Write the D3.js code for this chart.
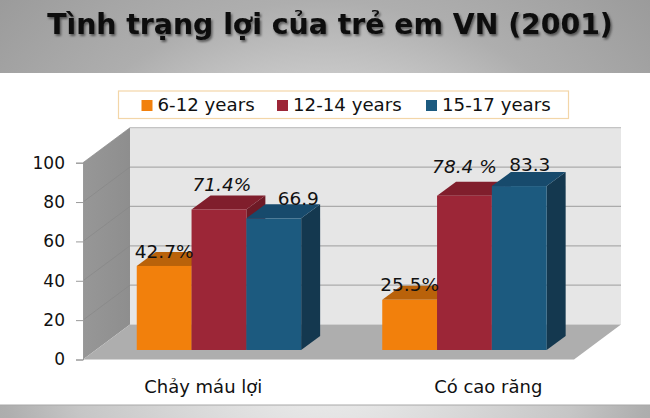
<!DOCTYPE html>
<html><head><meta charset="utf-8">
<script src="https://cdn.jsdelivr.net/npm/d3@7/dist/d3.min.js"></script>
<style>html,body{margin:0;padding:0;background:#fff}svg{display:block}</style>
</head><body><svg id="c" width="650" height="418"></svg>
<script>
const titleText = "Tình trạng lợi của trẻ em VN (2001)";
const categories = ["Chảy máu lợi", "Có cao răng"];
const seriesNames = ["6-12 years", "12-14 years", "15-17 years"];
const values612 = [42.7, 25.5];
const values1214 = [71.4, 78.4];
const values1517 = [66.9, 83.3];
const labels612 = ["42.7%", "25.5%"];
const labels1214 = ["71.4%", "78.4 %"];
const labels1517 = ["66.9", "83.3"];
const yTicks = [0, 20, 40, 60, 80, 100];

const font = "'DejaVu Sans', Verdana, sans-serif";
const svg = d3.select("#c");
const defs = svg.append("defs");

function grad(id, x2, y2, stops, x1 = 0, y1 = 0) {
  const g = defs.append("linearGradient").attr("id", id)
    .attr("x1", x1).attr("y1", y1).attr("x2", x2).attr("y2", y2);
  stops.forEach(s => g.append("stop").attr("offset", s[0]).attr("stop-color", s[1]));
}
const rg = defs.append("radialGradient").attr("id", "bg")
  .attr("gradientUnits", "userSpaceOnUse").attr("cx", 325).attr("cy", 330).attr("r", 470);
[[0, "#eeeeee"], [0.17, "#e6e6e6"], [0.55, "#c6c6c6"], [0.7, "#aeaeae"], [1, "#9a9a9a"]]
  .forEach(s => rg.append("stop").attr("offset", s[0]).attr("stop-color", s[1]));
grad("wall", 1, 0, [[0, "#979797"], [1, "#8e8e8e"]]);
const shadow = defs.append("filter").attr("id", "ts").attr("x", "-5%").attr("y", "-20%").attr("width", "110%").attr("height", "150%");
shadow.append("feDropShadow").attr("dx", 1.5).attr("dy", 2).attr("stdDeviation", 1.2).attr("flood-color", "#000").attr("flood-opacity", 0.5);

// slide background
svg.append("rect").attr("width", 650).attr("height", 418).attr("fill", "url(#bg)");
svg.append("rect").attr("y", 73).attr("width", 650).attr("height", 332).attr("fill", "#fff");
svg.append("line").attr("x1", 0).attr("x2", 650).attr("y1", 405).attr("y2", 405).attr("stroke", "#a8a8a8");
svg.append("text").attr("x", 330).attr("y", 34).attr("text-anchor", "middle")
  .attr("font-family", font).attr("font-weight", "bold").attr("font-size", 28.3)
  .attr("fill", "#0a0a0a").attr("filter", "url(#ts)").text(titleText);

// chart frame
const front = { left: 83, right: 574, bottom: 359.5, top: 162.7 };
const depth = { dx: 47, dy: -35 };
const barDepth = { dx: 19, dy: -14 };
const barShift = { dx: 13.2, dy: -9.5 };

const y = d3.scaleLinear().domain([0, 100]).range([front.bottom, front.top]);
const x0 = d3.scaleBand().domain(categories).range([front.left, front.right]);
const x1 = d3.scaleBand().domain(seriesNames).range([0, 164.4]);

const poly = pts => pts.map(p => p.join(",")).join(" ");
// left wall
svg.append("polygon").attr("fill", "url(#wall)").attr("points", poly([
  [front.left, y(100)], [front.left + depth.dx, y(100) + depth.dy],
  [front.left + depth.dx, y(0) + depth.dy], [front.left, y(0)]]));
// back wall
svg.append("rect").attr("x", front.left + depth.dx).attr("y", y(100) + depth.dy)
  .attr("width", front.right - front.left).attr("height", y(0) - y(100))
  .attr("fill", "#e6e6e6");
// floor
svg.append("polygon").attr("fill", "#aeaeae").attr("points", poly([
  [front.left, y(0)], [front.left + depth.dx, y(0) + depth.dy],
  [front.right + depth.dx, y(0) + depth.dy], [front.right, y(0)]]));
// gridlines
yTicks.filter(t => t > 0).forEach(t => {
  const yy = y(t) + depth.dy;
  svg.append("line").attr("x1", front.left + depth.dx).attr("x2", front.right + depth.dx)
    .attr("y1", yy).attr("y2", yy).attr("stroke", t === 100 ? "#c4c4c4" : "#ababab").attr("stroke-width", 1.2);
  svg.append("line").attr("x1", front.left).attr("x2", front.left + depth.dx)
    .attr("y1", y(t)).attr("y2", yy).attr("stroke", "#868686").attr("stroke-width", 0.7);
});

// y axis
const axis = svg.append("g").attr("transform", `translate(${front.left},0)`)
  .call(d3.axisLeft(y).tickValues(yTicks).tickSize(7).tickPadding(11).tickFormat(d3.format("d")));
axis.select(".domain").attr("stroke", "#9a9a9a");
axis.selectAll(".tick line").attr("stroke", "#9a9a9a");
axis.selectAll("text").attr("font-family", font).attr("font-size", 17).attr("fill", "#111");

// x axis labels
const catLabelOffset = [-2.5, 37];
svg.append("g").selectAll("text").data(categories).join("text")
  .attr("x", (d, i) => x0(d) + x0.bandwidth() / 2 + catLabelOffset[i]).attr("y", 393).attr("text-anchor", "middle")
  .attr("font-family", font).attr("font-size", 18).attr("fill", "#111").text(d => d);

// bars
const series = [
  { name: seriesNames[0], values: values612, labels: labels612, front: "#f2800c", top: "#b9620a", side: "#b9620a", italic: false, off: [[0, -8], [0, -8.7]] },
  { name: seriesNames[1], values: values1214, labels: labels1214, front: "#9c2637", top: "#801e2c", side: "#6e1a26", italic: true, off: [[3, -18.7], [0, -23]] },
  { name: seriesNames[2], values: values1517, labels: labels1517, front: "#1c5a7f", top: "#174a6c", side: "#14384f", italic: false, off: [[24.5, -13], [10.5, -14.6]] }
];
const groupStart = c => x0(c) + (x0.bandwidth() - 164.4) / 2 + barShift.dx;
const baseY = y(0) + barShift.dy;
const hScale = v => y(v) + barShift.dy;
const barsG = svg.append("g");
categories.forEach((c, ci) => {
  series.forEach(s => {
    const v = s.values[ci];
    const l = groupStart(c) + x1(s.name), w = x1.bandwidth(), r = l + w, t = hScale(v);
    barsG.append("polygon").attr("fill", s.side).attr("points", poly([
      [r, t], [r + barDepth.dx, t + barDepth.dy], [r + barDepth.dx, baseY + barDepth.dy], [r, baseY]]));
    barsG.append("polygon").attr("fill", s.top).attr("points", poly([
      [l, t], [l + barDepth.dx, t + barDepth.dy], [r + barDepth.dx, t + barDepth.dy], [r, t]]));
    barsG.append("rect").attr("x", l).attr("y", t).attr("width", w).attr("height", baseY - t).attr("fill", s.front);
  });
});
// data labels
categories.forEach((c, ci) => {
  series.forEach(s => {
    const l = groupStart(c) + x1(s.name) + x1.bandwidth() / 2;
    svg.append("text").attr("x", l + s.off[ci][0]).attr("y", hScale(s.values[ci]) + s.off[ci][1])
      .attr("text-anchor", "middle").attr("font-family", font).attr("font-size", 18.5)
      .attr("font-style", s.italic ? "italic" : "normal").attr("fill", "#111").text(s.labels[ci]);
  });
});

// legend
svg.append("rect").attr("x", 118.5).attr("y", 91).attr("width", 450).attr("height", 27.5)
  .attr("fill", "#fff").attr("stroke", "#f3d6a8").attr("stroke-width", 1.2);
const legendSwatchX = [141.5, 277, 426];
const legendG = svg.append("g");
series.forEach((s, i) => {
  legendG.append("rect").attr("x", legendSwatchX[i]).attr("y", 100).attr("width", 11).attr("height", 11).attr("fill", s.front);
  legendG.append("text").attr("x", legendSwatchX[i] + 16).attr("y", 111).attr("font-family", font)
    .attr("font-size", 18.2).attr("fill", "#111").text(s.name);
});
</script></body></html>
